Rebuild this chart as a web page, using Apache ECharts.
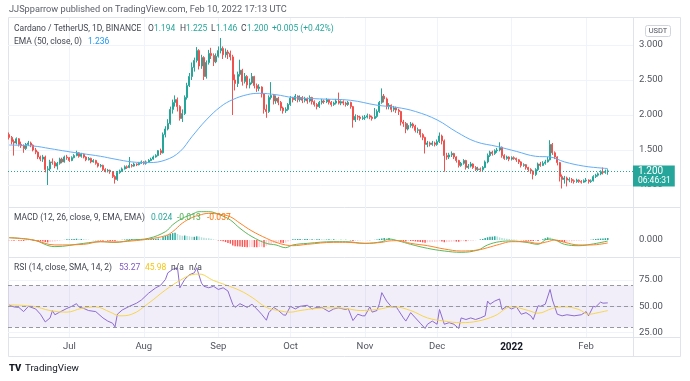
<!DOCTYPE html>
<html><head><meta charset="utf-8">
<script src="https://cdn.jsdelivr.net/npm/echarts@6/dist/echarts.min.js"></script>
<style>html,body{margin:0;padding:0;background:#fff}#c{width:690px;height:381px}</style>
</head><body><div id="c"></div>
<script>
// ---------- data ----------
const startDate = [2021, 5, 6];   // Jun 6 2021 (first daily candle)
const slotCount = 260;            // days shown on the time axis (incl. right margin)
const firstOpen = 1.72;
const closes = [
1.68,1.62,1.60,1.66,1.58,1.56,1.52,1.58,1.60,1.57,
1.50,1.47,1.40,1.37,1.40,1.22,1.23,1.33,1.32,1.27,
1.31,1.37,1.33,1.40,1.39,1.35,1.39,1.42,1.46,1.41,
1.44,1.40,1.36,1.38,1.33,1.35,1.31,1.27,1.28,1.22,
1.20,1.21,1.19,1.12,1.08,1.18,1.20,1.23,1.26,1.25,
1.28,1.27,1.30,1.29,1.31,1.33,1.31,1.33,1.35,1.37,
1.40,1.42,1.49,1.46,1.72,1.80,1.88,2.08,2.18,2.22,
2.12,1.95,2.02,2.25,2.42,2.55,2.68,2.78,2.92,2.70,
2.82,2.55,2.75,2.88,2.85,2.76,2.84,2.92,2.95,2.86,
2.90,2.88,2.83,2.50,2.45,2.58,2.64,2.48,2.55,2.43,
2.46,2.55,2.42,2.38,2.40,2.30,2.08,2.05,2.25,2.28,
2.20,2.24,2.18,2.10,2.06,2.08,2.15,2.24,2.22,2.27,
2.22,2.25,2.21,2.23,2.20,2.25,2.19,2.15,2.12,2.18,
2.20,2.19,2.22,2.18,2.15,2.17,2.20,2.17,2.19,2.17,
2.15,2.18,2.12,1.93,1.98,1.97,1.95,1.96,1.97,1.99,
1.97,1.95,1.98,2.05,2.18,2.27,2.23,2.12,2.14,2.08,
2.10,2.07,2.05,1.90,1.88,1.80,1.85,1.87,1.84,1.78,
1.79,1.72,1.68,1.58,1.60,1.58,1.60,1.58,1.62,1.70,
1.63,1.42,1.40,1.43,1.45,1.40,1.35,1.28,1.31,1.35,
1.25,1.27,1.30,1.25,1.22,1.23,1.22,1.25,1.33,1.42,
1.47,1.45,1.49,1.50,1.54,1.42,1.38,1.40,1.37,1.39,
1.38,1.36,1.33,1.28,1.29,1.25,1.22,1.20,1.15,1.22,
1.30,1.28,1.31,1.33,1.36,1.58,1.46,1.40,1.32,1.12,
1.08,1.10,1.07,1.08,1.06,1.05,1.07,1.05,1.04,1.06,
1.07,1.05,1.06,1.12,1.14,1.16,1.19,1.18,1.195,1.200];
const highs = [
1.75,1.70,1.65,1.68,1.67,1.62,1.58,1.60,1.63,1.62,
1.58,1.53,1.48,1.42,1.43,1.42,1.27,1.36,1.38,1.34,
1.33,1.39,1.39,1.42,1.43,1.40,1.41,1.44,1.49,1.47,
1.46,1.45,1.41,1.40,1.39,1.37,1.36,1.32,1.30,1.29,
1.24,1.23,1.22,1.20,1.14,1.20,1.22,1.25,1.28,1.28,
1.40,1.30,1.32,1.31,1.33,1.35,1.34,1.35,1.37,1.39,
1.42,1.44,1.50,1.52,1.75,1.84,1.94,2.12,2.22,2.28,
2.25,2.14,2.08,2.28,2.46,2.60,2.75,2.82,2.97,2.94,
2.86,2.84,2.78,2.93,2.96,2.88,2.88,2.98,3.10,2.98,
2.95,2.93,2.92,2.86,2.58,2.62,2.79,2.66,2.60,2.57,
2.52,2.60,2.56,2.45,2.44,2.41,2.31,2.15,2.28,2.47,
2.30,2.28,2.26,2.20,2.12,2.11,2.17,2.27,2.26,2.30,
2.28,2.28,2.27,2.26,2.25,2.28,2.26,2.21,2.17,2.20,
2.23,2.22,2.24,2.23,2.20,2.19,2.23,2.32,2.21,2.21,
2.19,2.20,2.19,2.13,2.01,2.00,1.99,1.99,2.00,2.02,
2.01,1.99,2.10,2.08,2.20,2.38,2.30,2.25,2.17,2.15,
2.13,2.12,2.09,2.06,1.93,1.90,1.88,1.90,1.89,1.86,
1.82,1.80,1.74,1.69,1.63,1.62,1.63,1.62,1.65,1.75,
1.72,1.65,1.46,1.46,1.48,1.46,1.41,1.36,1.33,1.37,
1.36,1.30,1.33,1.31,1.27,1.26,1.25,1.27,1.35,1.45,
1.49,1.49,1.51,1.53,1.61,1.55,1.44,1.42,1.41,1.41,
1.41,1.39,1.37,1.34,1.31,1.30,1.26,1.24,1.21,1.24,
1.32,1.33,1.34,1.36,1.40,1.64,1.60,1.48,1.41,1.33,
1.15,1.13,1.12,1.11,1.10,1.08,1.09,1.08,1.07,1.08,
1.10,1.08,1.08,1.14,1.16,1.18,1.21,1.25,1.22,1.225];
const lows = [
1.65,1.58,1.42,1.58,1.55,1.53,1.46,1.50,1.56,1.54,
1.48,1.44,1.37,1.34,1.33,1.18,1.00,1.20,1.29,1.24,
1.22,1.29,1.31,1.32,1.36,1.33,1.34,1.38,1.41,1.39,
1.39,1.38,1.34,1.35,1.31,1.32,1.29,1.25,1.25,1.20,
1.18,1.18,1.16,1.10,1.02,1.06,1.16,1.19,1.22,1.23,
1.24,1.25,1.26,1.27,1.28,1.30,1.29,1.29,1.32,1.34,
1.36,1.39,1.41,1.43,1.45,1.68,1.78,1.86,2.02,2.12,
2.05,1.92,1.90,2.00,2.22,2.40,2.50,2.62,2.75,2.65,
2.66,2.50,2.52,2.72,2.80,2.70,2.74,2.82,2.88,2.80,
2.82,2.80,2.78,2.00,2.35,2.40,2.55,2.42,2.45,2.38,
2.38,2.44,2.38,2.33,2.34,2.25,2.02,1.96,2.03,2.22,
2.15,2.16,2.14,2.06,2.02,2.03,2.06,2.13,2.18,2.20,
2.18,2.19,2.17,2.18,2.16,2.18,2.15,2.12,2.08,2.10,
2.15,2.16,2.17,2.15,2.12,2.13,2.15,2.15,2.14,2.14,
2.12,2.13,2.09,1.82,1.90,1.93,1.92,1.93,1.93,1.95,
1.94,1.92,1.94,1.96,2.03,2.16,2.18,2.08,2.08,2.04,
2.05,2.03,2.00,1.85,1.83,1.74,1.78,1.82,1.81,1.75,
1.74,1.68,1.64,1.45,1.54,1.55,1.56,1.55,1.56,1.60,
1.58,1.19,1.36,1.37,1.40,1.37,1.32,1.25,1.26,1.29,
1.22,1.23,1.25,1.23,1.20,1.20,1.19,1.20,1.24,1.31,
1.40,1.42,1.43,1.46,1.48,1.39,1.36,1.36,1.34,1.35,
1.36,1.33,1.30,1.25,1.26,1.22,1.19,1.16,1.08,1.13,
1.20,1.26,1.27,1.29,1.32,1.35,1.43,1.37,1.28,1.05,
0.95,1.02,0.98,1.04,1.03,1.02,1.03,1.03,1.02,1.03,
1.04,1.02,1.03,1.05,1.10,1.12,1.14,1.15,1.16,1.146];
// EMA(50): [dayIndex, value]
const emaPoints = [[0,1.571],[10,1.557],[17,1.52],[24,1.48],[30,1.45],[38,1.41],[44,1.37],[51,1.33],[58,1.32],[65,1.357],[71,1.476],[76,1.69],[82,1.93],[88,2.12],[93,2.22],[99,2.29],[104,2.31],[111,2.29],[118,2.25],[129,2.23],[142,2.21],[153,2.14],[161,2.11],[169,2.05],[178,1.93],[186,1.76],[194,1.62],[203,1.55],[211,1.48],[219,1.41],[225,1.40],[231,1.33],[239,1.27],[247,1.24],[249,1.236]];
// MACD line / signal line: [dayIndex, value]
const macdPoints = [[0,0.029],[10,0],[19,-0.083],[31,-0.042],[38,-0.021],[44,-0.03],[51,0],[58,0.021],[65,0.104],[68,0.19],[72,0.27],[76,0.32],[79,0.354],[83,0.354],[88,0.31],[92,0.25],[96,0.146],[101,0.042],[107,-0.042],[111,-0.062],[115,-0.096],[118,-0.062],[124,-0.042],[135,-0.021],[140,-0.021],[148,-0.042],[155,-0.021],[158,0.012],[162,-0.012],[167,-0.054],[174,-0.104],[181,-0.1375],[188,-0.154],[195,-0.125],[199,-0.062],[204,-0.021],[209,-0.012],[215,-0.029],[220,-0.054],[224,0.012],[227,0],[231,-0.054],[237,-0.071],[242,-0.054],[249,-0.013]];
const signalPoints = [[0,0.029],[10,0],[19,-0.062],[31,-0.054],[38,-0.021],[44,-0.025],[51,-0.012],[58,0.012],[65,0.054],[68,0.104],[72,0.21],[76,0.28],[79,0.31],[83,0.333],[88,0.32],[92,0.29],[96,0.21],[101,0.112],[107,0.021],[111,-0.029],[115,-0.062],[118,-0.071],[124,-0.054],[135,-0.029],[140,-0.029],[148,-0.042],[155,-0.029],[158,-0.012],[162,-0.008],[167,-0.042],[174,-0.071],[181,-0.1125],[188,-0.1375],[195,-0.125],[199,-0.096],[204,-0.054],[209,-0.021],[215,-0.021],[220,-0.042],[224,-0.021],[227,0],[231,-0.029],[237,-0.062],[242,-0.062],[249,-0.037]];
// MACD histogram, one value per day
const histogram = [
-0.004,-0.006,-0.008,-0.006,-0.008,-0.01,-0.012,-0.008,-0.006,-0.005,
-0.008,-0.01,-0.014,-0.016,-0.018,-0.026,-0.03,-0.024,-0.022,-0.02,
-0.014,-0.008,-0.004,0.002,0.008,0.008,0.01,0.014,0.016,0.012,0.012,
0.01,0.006,0.004,0,-0.002,-0.004,-0.006,-0.008,-0.01,-0.008,-0.01,-0.012,-0.012,-0.016,
-0.008,-0.002,0.004,0.006,0.008,0.01,0.012,0.01,0.01,0.008,0.01,0.008,
0.008,0.01,0.012,0.014,0.016,0.02,0.018,
0.04,0.05,0.06,0.075,0.086,0.09,0.075,
0.058,0.052,0.056,0.05,0.046,0.04,0.04,0.046,0.044,
0.034,0.028,0.022,0.021,0.016,0.008,0.002,-0.006,-0.01,
-0.016,-0.026,-0.036,-0.046,-0.068,-0.078,-0.08,-0.082,
-0.086,-0.088,-0.092,-0.09,-0.086,-0.09,-0.092,-0.088,-0.084,-0.09,-0.072,
-0.056,-0.046,-0.04,-0.036,-0.032,-0.034,-0.036,-0.034,-0.02,-0.008,0.009,
0.01,0.012,0.014,0.012,0.012,0.012,0.01,0.01,0.008,0.008,0.01,0.008,0.006,0.006,0.008,0.006,0.008,
0.004,0.002,0.004,0.002,0.004,0,-0.006,-0.012,-0.01,-0.008,-0.006,-0.004,0,-0.002,-0.002,0,0.002,
0.006,0.014,0.02,0.024,0.022,0.024,0.012,0.006,0,-0.004,
-0.01,-0.012,-0.016,-0.012,-0.012,-0.014,-0.018,-0.022,-0.026,-0.03,-0.033,-0.03,-0.028,-0.026,-0.024,-0.022,-0.016,-0.018,
-0.028,-0.026,-0.024,-0.022,-0.02,-0.02,-0.022,-0.017,-0.014,-0.016,-0.012,-0.01,-0.008,-0.004,0,0.008,0.014,
0.024,0.034,0.04,0.042,0.046,0.044,0.033,0.026,0.02,0.016,0.012,0.009,0.006,0.004,0,
-0.004,-0.006,-0.008,-0.01,-0.012,-0.014,-0.012,-0.012,-0.004,0.01,
0.022,0.033,0.03,0.016,0,-0.012,-0.02,-0.024,
-0.025,-0.022,-0.018,-0.016,-0.012,-0.01,-0.009,-0.008,-0.006,-0.004,-0.002,
0.004,0.008,0.012,0.016,0.018,0.02,0.022,0.024];
// RSI(14) and its SMA: [dayIndex, value]
const rsiPoints = [[0,51.3],[2,49.4],[4,49],[6,45],[8,50],[11,47.5],[13,42.5],[15,35.2],[17,39],[18,46],[19,42],[21,44.5],[24,48],[26,50],[28,52.5],[29,49.4],[31,48],[33,46],[36,45],[39,39],[41,36],[43,34],[44,30.5],[45,42.5],[47,46.5],[50,50],[53,53],[55,56],[58,62.5],[61,67.6],[63,70],[65,75.5],[66,81.8],[68,85],[70,86.6],[71,67.6],[73,75.5],[75,80],[77,81.8],[78,86.6],[80,72],[81,69],[83,67.6],[85,69],[87,66],[89,67.6],[91,64.5],[93,51.9],[94,49],[96,52.5],[99,49],[101,52],[103,47.5],[105,42.5],[107,36.8],[108,44],[110,49],[112,46],[114,42],[115,41.5],[117,50],[119,47.5],[121,50],[124,51],[126,47.5],[128,49],[130,49],[133,45],[135,47.5],[137,48.5],[140,47],[141,48],[143,36.5],[145,42.5],[147,41],[148,41],[150,49.5],[151,44.5],[153,46],[154,52.5],[155,63],[157,55],[159,49.5],[161,49.5],[162,46],[164,39],[165,36],[167,44],[169,39],[171,34],[173,29],[174,33],[176,36],[178,33],[179,47],[181,33],[183,34.5],[185,33],[187,29],[188,39],[190,37.5],[192,39],[194,37.5],[196,39],[198,41],[199,55],[200,52],[202,55],[204,57],[205,47],[207,50],[209,47.5],[211,49.5],[213,42.5],[215,44],[217,41],[218,37.5],[220,50.5],[221,50],[223,52],[225,66],[226,56],[228,42.5],[230,41],[232,42],[235,41],[238,42],[240,45],[241,41],[243,50],[244,49.5],[246,54],[247,53],[249,53.27]];
const rsiSmaPoints = [[0,51.3],[10,50],[17,46],[24,44.5],[30,48],[36,49.4],[42,44.5],[46,41],[51,42.5],[58,53],[65,65.5],[71,74.5],[76,80],[79,80.6],[85,74.5],[90,70.4],[96,65],[101,58.5],[107,49],[112,46],[117,44.5],[121,46],[128,48],[135,48.5],[140,48],[146,46],[153,47],[160,49.5],[167,46],[174,39],[181,36],[188,34.5],[195,36],[202,41],[209,49.5],[216,46],[220,43.5],[226,48],[231,49.5],[237,47],[241,42.5],[245,44],[249,45.98]];
// axis ticks & labels
const xTickDates = ['2021-07-01','2021-08-01','2021-09-01','2021-10-01','2021-11-01','2021-12-01','2022-01-01','2022-02-01'];
const xTickLabels = ['Jul','Aug','Sep','Oct','Nov','Dec','2022','Feb'];
const priceTicks = [1.0, 1.5, 2.0, 2.5, 3.0];
const macdTicks = [0];
const rsiTicks = [25, 50, 75];
const rsiLevels = [30, 50, 70];
const lastPrice = 1.200;
const countdown = '06:46:31';
const headerText = 'JJSpparrow published on TradingView.com, Feb 10, 2022 17:13 UTC';
// legend pieces: [text, colour key, x]
const priceLegend = [['Cardano / TetherUS, 1D, BINANCE','t',14],['O','t',148],['1.194','v',154],['H','t',180],['1.225','v',186],['L','t',211],['1.146','v',216],['C','t',241],['1.200','v',247],['+0.005 (+0.42%)','v',272]];
const emaLegend = [['EMA (50, close, 0)','t',14],['1.236','b',88]];
const macdLegend = [['MACD (12, 26, close, 9, EMA, EMA)','t',14],['0.024','h',151],['-0.013','m',177],['-0.037','s',207]];
const rsiLegend = [['RSI (14, close, SMA, 14, 2)','t',14],['53.27','r',119],['45.98','y',145],['n/a','t',171],['n/a','t',189]];

// ---------- build ----------
const cats = [];
const t0 = Date.UTC(startDate[0], startDate[1], startDate[2]);
for (let i = 0; i < slotCount; i++) cats.push(new Date(t0 + i * 86400000).toISOString().slice(0, 10));
const tickSet = new Set(xTickDates.map(s => cats.indexOf(s)));
const candles = closes.map((c, i) => [i ? closes[i - 1] : firstOpen, c, lows[i], highs[i]]);
const histData = histogram.map((v, i) => {
  const p = i ? histogram[i - 1] : v;
  let col;
  if (v >= 0) col = v >= p ? '#26a69a' : '#b2dfdb';
  else col = v <= p ? '#ff5252' : '#ffcdd2';
  return { value: v, itemStyle: { color: col } };
});

const FONT = 'Roboto';
const AXC = '#50535e';
const GRIDC = '#f0f3fa';
const L = 8, W = 625;
const LEG_FS = 8.5;
const legendColors = { t: '#434651', v: '#26a69a', b: '#2196f3', h: '#26a69a', m: '#4caf50', s: '#ff6d00', r: '#7e57c2', y: '#f5c518' };

function legendTexts(items, y) {
  return items.map(it => ({ type: 'text', silent: true, z: 10, x: it[2], y: y,
    style: { text: it[0], fill: legendColors[it[1]], fontSize: LEG_FS, fontFamily: FONT, verticalAlign: 'middle' } }));
}

function xAx(gi, showLabel) {
  return {
    type: 'category', gridIndex: gi, data: cats, boundaryGap: true,
    axisLine: { show: false }, axisTick: { show: false },
    axisLabel: {
      show: showLabel, interval: (i) => tickSet.has(i), margin: 5,
      color: AXC, fontSize: 9.5, fontFamily: FONT,
      formatter: (v) => { const k = xTickDates.indexOf(v); const t = k >= 0 ? xTickLabels[k] : ''; return /^\d{4}$/.test(t) ? '{b|' + t + '}' : t; },
      rich: { b: { fontWeight: 'bold', color: '#131722', fontSize: 10, fontFamily: FONT } }
    },
    splitLine: { show: true, interval: (i) => tickSet.has(i), alignWithLabel: true, lineStyle: { color: GRIDC, width: 1 } }
  };
}

const chart = echarts.init(document.getElementById('c'), null, { renderer: 'canvas' });
chart.setOption({
  animation: false,
  backgroundColor: '#ffffff',
  textStyle: { fontFamily: FONT },
  grid: [
    { left: L, width: W, top: 18, height: 189 },
    { left: L, width: W, top: 207, height: 50 },
    { left: L, width: W, top: 257, height: 80 }
  ],
  xAxis: [xAx(0, false), xAx(1, false), xAx(2, true)],
  yAxis: [
    { type: 'value', gridIndex: 0, position: 'right', min: 0.6857, max: 3.3857,
      axisLine: { show: false }, axisTick: { show: false, customValues: priceTicks },
      axisLabel: { customValues: priceTicks, formatter: v => v.toFixed(3), color: AXC, fontSize: 9.5, margin: 6 },
      splitLine: { show: true, lineStyle: { color: GRIDC } } },
    { type: 'value', gridIndex: 1, position: 'right', min: -0.2125, max: 0.4125,
      axisLine: { show: false }, axisTick: { show: false, customValues: macdTicks },
      axisLabel: { customValues: macdTicks, formatter: v => v.toFixed(3), color: AXC, fontSize: 9.5, margin: 6 },
      splitLine: { show: false } },
    { type: 'value', gridIndex: 2, position: 'right', min: 20.9, max: 96.8,
      axisLine: { show: false }, axisTick: { show: false, customValues: rsiTicks },
      axisLabel: { customValues: rsiTicks, formatter: v => v.toFixed(2), color: AXC, fontSize: 9.5, margin: 6 },
      splitLine: { show: true, lineStyle: { color: GRIDC } } }
  ],
  series: [
    { type: 'candlestick', xAxisIndex: 0, yAxisIndex: 0, data: candles, barWidth: '62%',
      itemStyle: { color: '#26a69a', color0: '#ef5350', borderColor: '#26a69a', borderColor0: '#ef5350', borderWidth: 1 },
      markLine: { silent: true, symbol: 'none', animation: false,
        data: [{ yAxis: lastPrice }],
        lineStyle: { color: '#26a69a', type: [1, 2], width: 1 },
        label: { position: 'end', distance: 0, offset: [0, 5], backgroundColor: '#26a69a', padding: [1, 4, 1, 5],
          formatter: () => '{p|' + lastPrice.toFixed(3) + '}\n{t|' + countdown + '}',
          rich: { p: { color: '#fff', fontSize: 10, lineHeight: 10, fontFamily: FONT },
                  t: { color: '#fff', fontSize: 8.5, lineHeight: 9, fontFamily: FONT } } } } },
    { type: 'line', xAxisIndex: 0, yAxisIndex: 0, data: emaPoints, smooth: 0.4, symbol: 'none',
      lineStyle: { color: '#62aef7', width: 1 } },
    { type: 'bar', xAxisIndex: 1, yAxisIndex: 1, data: histData, barWidth: '60%' },
    { type: 'line', xAxisIndex: 1, yAxisIndex: 1, data: macdPoints, smooth: 0.4, symbol: 'none',
      lineStyle: { color: '#5cb85c', width: 1 } },
    { type: 'line', xAxisIndex: 1, yAxisIndex: 1, data: signalPoints, smooth: 0.4, symbol: 'none',
      lineStyle: { color: '#ff8226', width: 1 } },
    { type: 'line', xAxisIndex: 2, yAxisIndex: 2, data: rsiPoints, symbol: 'none',
      lineStyle: { color: '#8c6bd1', width: 1 },
      markArea: { silent: true, itemStyle: { color: 'rgba(126,87,194,0.10)' }, data: [[{ yAxis: rsiLevels[0] }, { yAxis: rsiLevels[2] }]] },
      markLine: { silent: true, symbol: 'none', label: { show: false },
        lineStyle: { color: '#9598a1', type: [4, 3], width: 1 },
        data: rsiLevels.map(v => ({ yAxis: v })) } },
    { type: 'line', xAxisIndex: 2, yAxisIndex: 2, data: rsiSmaPoints, smooth: 0.4, symbol: 'none',
      lineStyle: { color: '#f7d64a', width: 1 } }
  ],
  graphic: [
    { type: 'rect', silent: true, shape: { x: 8.5, y: 17.5, width: 672, height: 339 }, style: { fill: 'none', stroke: '#e0e3eb', lineWidth: 1 } },
    { type: 'line', silent: true, shape: { x1: 633.5, y1: 17.5, x2: 633.5, y2: 356.5 }, style: { stroke: '#e0e3eb', lineWidth: 1 } },
    { type: 'line', silent: true, shape: { x1: 8.5, y1: 207.5, x2: 680.5, y2: 207.5 }, style: { stroke: '#e0e3eb', lineWidth: 1 } },
    { type: 'line', silent: true, shape: { x1: 8.5, y1: 257.5, x2: 680.5, y2: 257.5 }, style: { stroke: '#e0e3eb', lineWidth: 1 } },
    { type: 'line', silent: true, shape: { x1: 8.5, y1: 337.5, x2: 680.5, y2: 337.5 }, style: { stroke: '#e0e3eb', lineWidth: 1 } },
    { type: 'text', silent: true, x: 9, y: 10, style: { text: headerText, fill: '#5d606b', fontSize: 9.2, fontFamily: FONT, verticalAlign: 'middle' } },
    ...legendTexts(priceLegend, 29),
    ...legendTexts(emaLegend, 42),
    ...legendTexts(macdLegend, 218),
    ...legendTexts(rsiLegend, 268),
    { type: 'rect', silent: true, shape: { x: 645.5, y: 25.5, width: 25, height: 11, r: 2 }, style: { fill: '#fff', stroke: '#d1d4dc', lineWidth: 1 } },
    { type: 'text', silent: true, x: 658, y: 31, style: { text: 'USDT', fill: '#50535e', fontSize: 7.5, fontFamily: FONT, align: 'center', verticalAlign: 'middle' } },
    { type: 'text', silent: true, x: 9, y: 369, style: { text: 'TV', fill: '#131722', fontSize: 9.5, fontWeight: 900, fontFamily: FONT, verticalAlign: 'middle' } },
    { type: 'text', silent: true, x: 25, y: 369, style: { text: 'TradingView', fill: '#131722', fontSize: 9.8, fontFamily: FONT, verticalAlign: 'middle' } }
  ]
});
</script>
</body></html>
